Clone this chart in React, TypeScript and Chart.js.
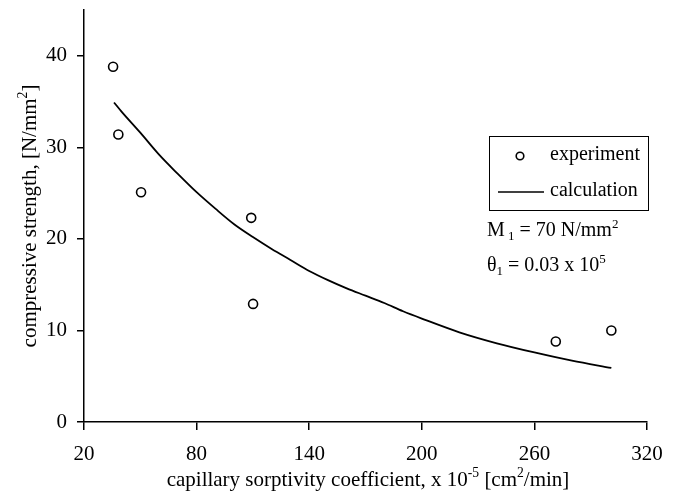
import React, { useEffect, useRef } from "react";
import { Chart, registerables } from "chart.js";

Chart.register(...registerables);

const expX = [35.5, 38.3, 50.4, 109.1, 110.1, 271.4, 301];
const expY = [38.8, 31.4, 25.1, 22.3, 12.9, 8.8, 10.0];

const calcX = [36, 40, 50, 60, 70, 80, 90, 100, 110, 120, 130, 140, 150, 160, 170, 180, 190, 200, 220, 240, 260, 280, 301];
const calcY = [34.9, 33.9, 31.6, 29.2, 27.1, 25.1, 23.3, 21.6, 20.2, 18.9, 17.7, 16.5, 15.5, 14.6, 13.8, 13.0, 12.1, 11.3, 9.8, 8.6, 7.6, 6.7, 5.9];

const xTitle = [
  { t: "capillary sorptivity coefficient, x 10" },
  { t: "-5", sup: true },
  { t: " [cm" },
  { t: "2", sup: true },
  { t: "/min]" },
];
const yTitle = [
  { t: "compressive strength, [N/mm" },
  { t: "2", sup: true },
  { t: "]" },
];
const note1 = [{ t: "M" }, { t: " 1", sub: true }, { t: " = 70 N/mm" }, { t: "2", sup: true }];
const note2 = [{ t: "θ" }, { t: "1", sub: true }, { t: " = 0.03 x 10" }, { t: "5", sup: true }];
const legendLabels = ["experiment", "calculation"];

const FONT = "'Liberation Serif', 'Times New Roman', serif";

type Seg = { t: string; sup?: boolean; sub?: boolean };

function richWidth(ctx: CanvasRenderingContext2D, segs: Seg[], size: number) {
  let w = 0;
  for (const s of segs) {
    const fs = s.sup || s.sub ? size * 0.65 : size;
    ctx.font = `${fs}px ${FONT}`;
    w += ctx.measureText(s.t).width;
  }
  return w;
}

function drawRich(ctx: CanvasRenderingContext2D, segs: Seg[], x: number, y: number, size: number) {
  let cx = x;
  ctx.textBaseline = "alphabetic";
  ctx.textAlign = "left";
  for (const s of segs) {
    const fs = s.sup || s.sub ? size * 0.65 : size;
    ctx.font = `${fs}px ${FONT}`;
    const dy = s.sup ? -size * 0.42 : s.sub ? size * 0.22 : 0;
    ctx.fillText(s.t, cx, y + dy);
    cx += ctx.measureText(s.t).width;
  }
}

const decorPlugin = {
  id: "decor",
  beforeDraw(chart: any) {
    const ctx = chart.ctx;
    ctx.save();
    ctx.fillStyle = "#fff";
    ctx.fillRect(0, 0, chart.width, chart.height);
    ctx.restore();
  },
  afterDraw(chart: any) {
    const ctx: CanvasRenderingContext2D = chart.ctx;
    const a = chart.chartArea;
    ctx.save();
    ctx.fillStyle = "#000";
    ctx.strokeStyle = "#000";
    // x title
    const xs = 21;
    const xw = richWidth(ctx, xTitle, xs);
    drawRich(ctx, xTitle, 368 - xw / 2, a.bottom + 64, xs);
    // y title
    const yw = richWidth(ctx, yTitle, xs);
    ctx.save();
    ctx.translate(36, 216);
    ctx.rotate(-Math.PI / 2);
    drawRich(ctx, yTitle, -yw / 2, 0, xs);
    ctx.restore();
    // legend
    ctx.lineWidth = 1;
    ctx.strokeRect(489.5, 136.5, 159, 74);
    ctx.beginPath();
    ctx.lineWidth = 1.6;
    ctx.arc(520, 156, 3.8, 0, Math.PI * 2);
    ctx.stroke();
    ctx.beginPath();
    ctx.lineWidth = 1.5;
    ctx.moveTo(498, 192);
    ctx.lineTo(544, 192);
    ctx.stroke();
    ctx.font = `20px ${FONT}`;
    ctx.textBaseline = "middle";
    ctx.textAlign = "left";
    ctx.fillText(legendLabels[0], 550, 155);
    ctx.fillText(legendLabels[1], 550, 191);
    // notes
    drawRich(ctx, note1, 487, 236, 20);
    drawRich(ctx, note2, 487, 271, 20);
    ctx.restore();
  },
};

export default function App() {
  const ref = useRef<HTMLCanvasElement | null>(null);
  useEffect(() => {
    if (!ref.current) return;
    const chart = new Chart(ref.current, {
      type: "scatter",
      data: {
        datasets: [
          {
            label: legendLabels[0],
            data: expX.map((x, i) => ({ x, y: expY[i] })),
            showLine: false,
            pointRadius: 4.5,
            pointBorderWidth: 1.6,
            pointBorderColor: "#000",
            pointBackgroundColor: "rgba(255,255,255,0)",
          },
          {
            label: legendLabels[1],
            data: calcX.map((x, i) => ({ x, y: calcY[i] })),
            showLine: true,
            pointRadius: 0,
            borderColor: "#000",
            borderWidth: 1.8,
            cubicInterpolationMode: "monotone",
          },
        ],
      },
      options: {
        responsive: false,
        animation: false,
        layout: { padding: { left: 0, right: 28, top: 10, bottom: 0 } },
        plugins: { legend: { display: false }, tooltip: { enabled: false } },
        scales: {
          x: {
            type: "linear",
            min: 20,
            max: 320,
            afterFit: (s: any) => {
              s.height = 73;
              s.paddingLeft = 0;
              s.paddingRight = 0;
            },
            ticks: {
              stepSize: 60,
              includeBounds: false,
              color: "#000",
              font: { family: FONT, size: 21 },
              padding: 12,
              maxRotation: 0,
            },
            grid: { drawOnChartArea: false, drawTicks: true, tickLength: 8, color: "#000", lineWidth: 1.5 },
            border: { display: true, color: "#000", width: 1.5 },
          },
          y: {
            type: "linear",
            min: 0,
            max: 45,
            afterFit: (s: any) => {
              s.width = 84;
              s.paddingTop = 0;
              s.paddingBottom = 0;
            },
            ticks: {
              stepSize: 10,
              includeBounds: false,
              color: "#000",
              font: { family: FONT, size: 21 },
              padding: 10,
            },
            grid: { drawOnChartArea: false, drawTicks: true, tickLength: 7, color: "#000", lineWidth: 1.5 },
            border: { display: true, color: "#000", width: 1.5 },
          },
        },
      },
      plugins: [decorPlugin],
    } as any);
    return () => chart.destroy();
  }, []);
  return (
    <div style={{ position: "absolute", left: 0, top: 0, width: 675, height: 495 }}>
      <canvas ref={ref} width={675} height={495} style={{ display: "block" }} />
    </div>
  );
}
